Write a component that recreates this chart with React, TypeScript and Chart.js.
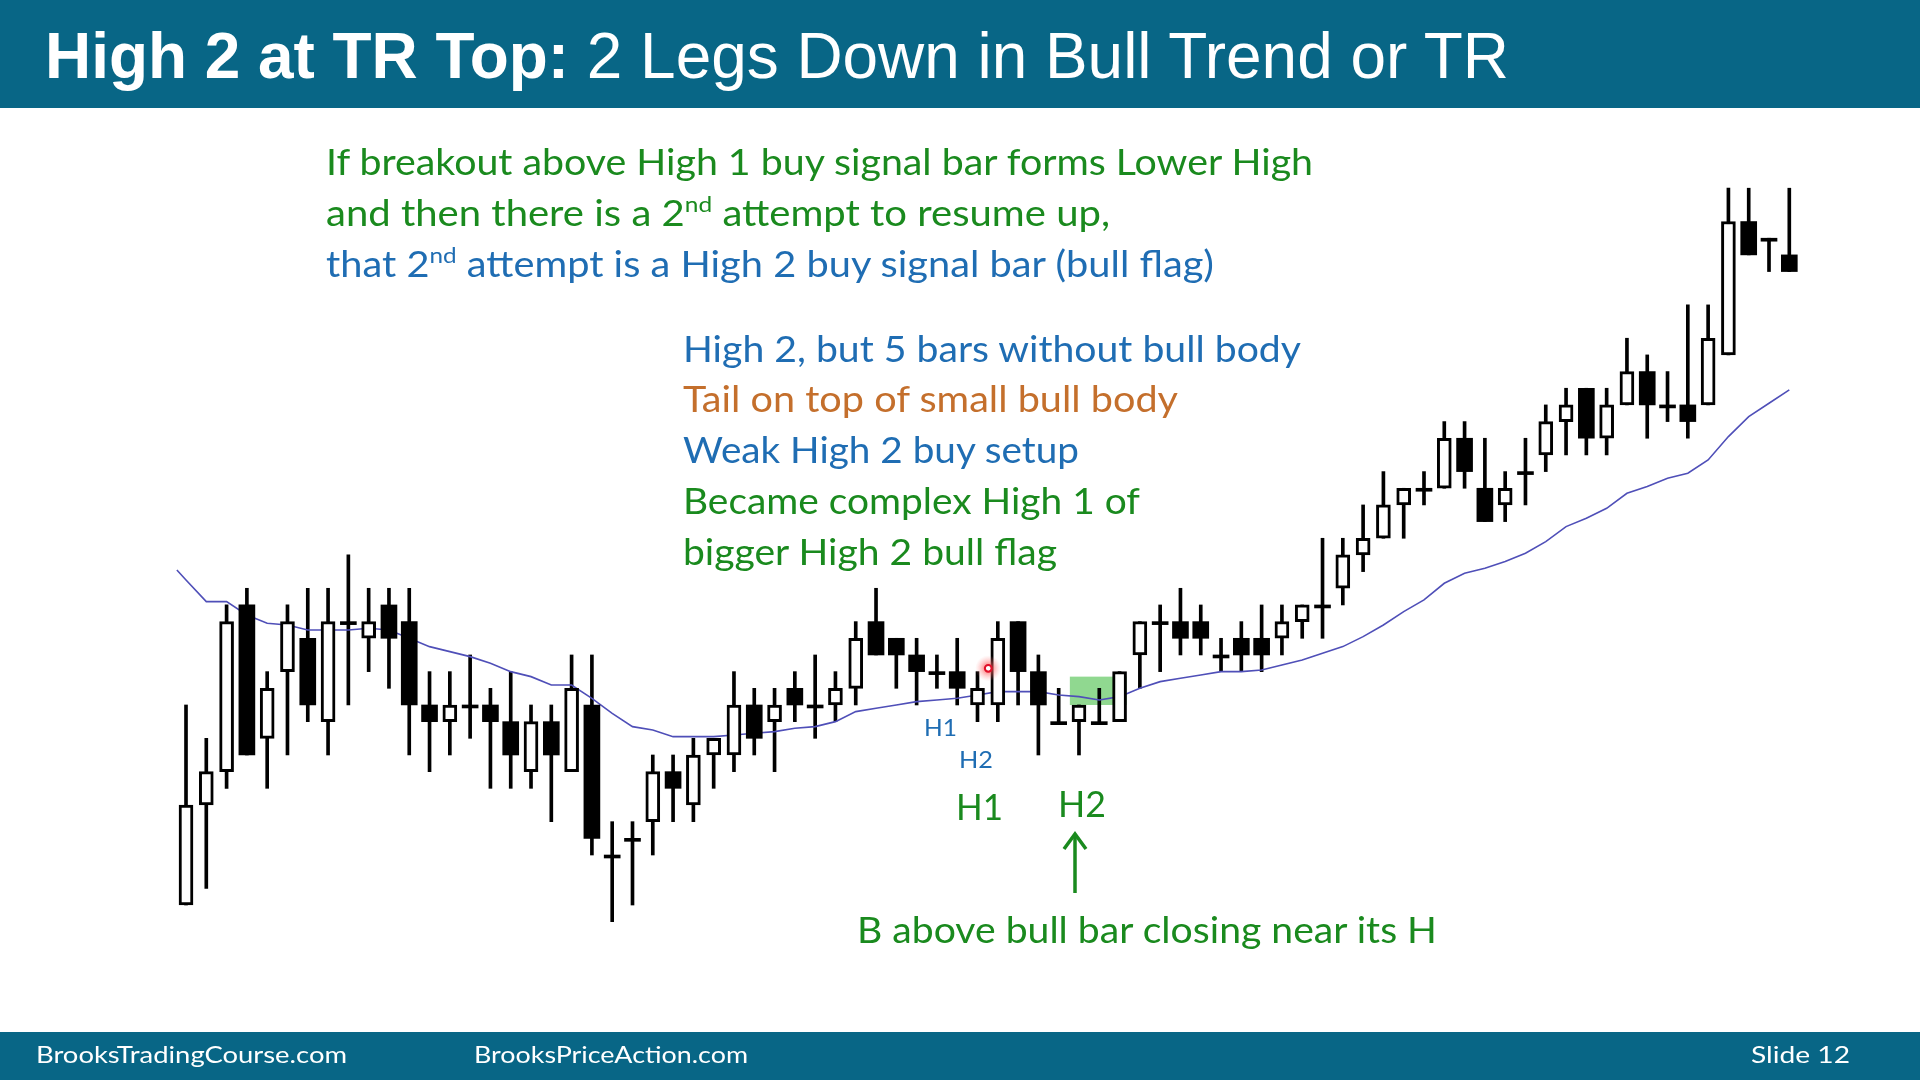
import React, { useEffect, useRef } from 'react';
import { Chart, registerables } from 'chart.js';

Chart.register(...registerables);

// ---- Price data (in chart ticks), one entry per bar ----
const opens = [
  1, 7, 9, 19, 11, 15, 17, 12, 18, 17,
  19, 18, 13, 12, 13, 13, 12, 9, 12, 9,
  13, 4, 5, 6, 9, 7, 10, 10, 13, 12,
  14, 13, 13, 14, 18, 17, 16, 15, 15, 13,
  13, 18, 15, 12, 12, 12, 12, 16, 18, 18,
  18, 16, 17, 17, 17, 18, 19, 20, 22, 23,
  25, 26, 26, 29, 26, 25, 27, 28, 30, 32,
  29, 31, 33, 31, 31, 31, 34, 42, 41, 40,
];
const highs = [
  13, 11, 19, 20, 15, 19, 20, 20, 22, 20,
  20, 20, 15, 15, 16, 14, 15, 13, 13, 16,
  16, 6, 6, 10, 10, 11, 11, 15, 14, 14,
  15, 16, 15, 18, 20, 17, 17, 16, 17, 15,
  18, 18, 16, 14, 13, 14, 15, 18, 19, 20,
  19, 17, 18, 19, 19, 19, 23, 23, 25, 27,
  26, 27, 30, 30, 29, 27, 29, 31, 32, 32,
  32, 35, 34, 33, 37, 37, 44, 44, 41, 44,
];
const lows = [
  1, 2, 8, 10, 8, 10, 12, 10, 13, 15,
  14, 10, 9, 10, 11, 8, 8, 8, 6, 9,
  4, 0, 1, 4, 6, 6, 8, 9, 10, 9,
  12, 11, 12, 13, 16, 14, 13, 14, 13, 12,
  12, 13, 10, 12, 10, 12, 12, 14, 15, 16,
  16, 15, 15, 15, 16, 17, 17, 19, 21, 23,
  23, 25, 26, 26, 24, 24, 25, 27, 28, 28,
  28, 31, 29, 30, 29, 31, 34, 40, 39, 39,
];
const closes = [
  7, 9, 18, 10, 14, 18, 13, 18, 18, 18,
  17, 13, 12, 13, 13, 12, 10, 12, 10, 14,
  5, 4, 5, 9, 8, 10, 11, 13, 11, 13,
  13, 13, 14, 17, 16, 16, 15, 15, 14, 14,
  17, 15, 13, 12, 13, 12, 15, 18, 18, 17,
  17, 16, 16, 16, 18, 19, 19, 22, 23, 25,
  26, 26, 29, 27, 24, 26, 27, 30, 31, 29,
  31, 33, 31, 31, 30, 35, 42, 40, 41, 39,
];
// 20-bar moving average line
const ema = [
  20.5, 19.2, 19.2, 18.4, 17.9, 17.8, 17.5, 17.5, 17.5, 17.6,
  17.5, 17.0, 16.5, 16.2, 15.9, 15.5, 15.0, 14.7, 14.2, 14.2,
  13.4, 12.5, 11.7, 11.5, 11.1, 11.1, 11.1, 11.2, 11.3, 11.4,
  11.6, 11.7, 12.0, 12.6, 12.8, 13.0, 13.2, 13.3, 13.4, 13.6,
  13.8, 13.8, 13.8, 13.6, 13.5, 13.3, 13.5, 14.0, 14.4, 14.6,
  14.8, 15.0, 15.0, 15.1, 15.4, 15.7, 16.1, 16.5, 17.1, 17.8,
  18.6, 19.3, 20.3, 20.9, 21.2, 21.6, 22.1, 22.8, 23.7, 24.2,
  24.8, 25.7, 26.1, 26.6, 26.9, 27.7, 29.1, 30.3, 31.1, 31.9,
];
// the average line starts half a bar before the first bar
const emaLeadIn = { bar: -0.45, value: 21.1 };
// highlighted signal zone (bar index range, price range)
const zoneBars = [43.55, 46.35];
const zonePrices = [13.0, 14.7];
// cursor mark (bar index, price)
const cursorPoint = [39.53, 15.2];

// visible scale ranges
const X_RANGE = [-9.165, 85.44];
const Y_RANGE = [-9.497, 55.29];

const GREEN = '#1a8a1e';
const BLUE = '#1f6db3';
const BROWN = '#c46f2c';
const BAR_BLUE = '#086686';

const slidePlugin = {
  id: 'slideMarks',
  beforeDatasetsDraw(chart: any) {
    const { ctx, scales } = chart;
    const x = scales.x, y = scales.y;
    const l = x.getPixelForValue(zoneBars[0]);
    const r = x.getPixelForValue(zoneBars[1]);
    const t = y.getPixelForValue(zonePrices[1]);
    const b = y.getPixelForValue(zonePrices[0]);
    ctx.save();
    ctx.fillStyle = '#90d890';
    ctx.fillRect(l, t, r - l, b - t);
    ctx.restore();
  },
  afterDatasetsDraw(chart: any) {
    const { ctx, scales } = chart;
    const cx = scales.x.getPixelForValue(cursorPoint[0]);
    const cy = scales.y.getPixelForValue(cursorPoint[1]);
    ctx.save();
    const g = ctx.createRadialGradient(cx, cy, 2, cx, cy, 13);
    g.addColorStop(0, 'rgba(255,70,70,0.75)');
    g.addColorStop(0.5, 'rgba(255,110,110,0.35)');
    g.addColorStop(1, 'rgba(255,150,150,0)');
    ctx.fillStyle = g;
    ctx.beginPath();
    ctx.arc(cx, cy, 13, 0, Math.PI * 2);
    ctx.fill();
    ctx.fillStyle = '#fff';
    ctx.beginPath();
    ctx.arc(cx, cy, 2.5, 0, Math.PI * 2);
    ctx.fill();
    ctx.strokeStyle = '#e0102a';
    ctx.lineWidth = 2;
    ctx.beginPath();
    ctx.arc(cx, cy, 3.4, 0, Math.PI * 2);
    ctx.stroke();
    ctx.restore();
  },
};

function Txt(props: any) {
  const { x, y, w, size, color, children, weight, family } = props;
  return (
    <text
      x={x}
      y={y}
      fontFamily={family || "Lato, 'Open Sans', sans-serif"}
      fontSize={size}
      fill={color}
      fontWeight={weight || 'normal'}
      textLength={w}
      lengthAdjust="spacingAndGlyphs"
    >
      {children}
    </text>
  );
}

export default function App() {
  const ref = useRef<HTMLCanvasElement>(null);

  useEffect(() => {
    document.body.style.margin = '0';
    const idx = opens.map((_, i) => i);
    const wickData = idx.map((i) => ({ x: i, y: [lows[i], highs[i]] }));
    const bullData = idx
      .filter((i) => closes[i] > opens[i])
      .map((i) => ({ x: i, y: [opens[i], closes[i]] }));
    const bearData = idx
      .filter((i) => closes[i] <= opens[i])
      .map((i) => ({ x: i, y: [closes[i], opens[i]] }));
    const emaData = [{ x: emaLeadIn.bar, y: emaLeadIn.value }].concat(
      ema.map((v, i) => ({ x: i, y: v }))
    );

    const chart = new Chart(ref.current as HTMLCanvasElement, {
      type: 'bar',
      data: {
        datasets: [
          {
            type: 'bar',
            label: 'bull',
            data: bullData as any,
            backgroundColor: '#ffffff',
            borderColor: '#000000',
            borderWidth: 3,
            borderSkipped: false,
            barThickness: 14,
            grouped: false,
            order: 0,
          } as any,
          {
            type: 'bar',
            label: 'bear',
            data: bearData as any,
            backgroundColor: '#000000',
            borderWidth: 0,
            barThickness: 16,
            minBarLength: 3,
            grouped: false,
            order: 0,
          } as any,
          {
            type: 'line',
            label: 'ema',
            data: emaData as any,
            borderColor: '#4f4fb8',
            borderWidth: 1.6,
            pointRadius: 0,
            tension: 0,
            fill: false,
            order: 1,
          } as any,
          {
            type: 'bar',
            label: 'wick',
            data: wickData as any,
            backgroundColor: '#000000',
            borderWidth: 0,
            barThickness: 3,
            grouped: false,
            order: 2,
          } as any,
        ],
      },
      options: {
        animation: false,
        responsive: false,
        maintainAspectRatio: false,
        devicePixelRatio: 1,
        layout: { padding: 0 },
        plugins: { legend: { display: false }, tooltip: { enabled: false } },
        scales: {
          x: { type: 'linear', min: X_RANGE[0], max: X_RANGE[1], display: false, offset: false },
          y: { type: 'linear', min: Y_RANGE[0], max: Y_RANGE[1], display: false },
        },
      } as any,
      plugins: [slidePlugin as any],
    });
    return () => chart.destroy();
  }, []);

  return (
    <div
      style={{
        position: 'fixed',
        left: 0,
        top: 0,
        width: 1920,
        height: 1080,
        background: '#ffffff',
        overflow: 'hidden',
      }}
    >
      <canvas
        ref={ref}
        width={1920}
        height={1080}
        style={{ position: 'absolute', left: 0, top: 0, width: 1920, height: 1080 }}
      />
      <svg
        width={1920}
        height={1080}
        style={{ position: 'absolute', left: 0, top: 0, pointerEvents: 'none' }}
      >
        <rect x={0} y={0} width={1920} height={108} fill={BAR_BLUE} />
        <rect x={0} y={1032} width={1920} height={48} fill={BAR_BLUE} />
        <text
          x={45}
          y={78}
          fontFamily="'Liberation Sans', Arial, sans-serif"
          fontSize={65}
          fill="#ffffff"
          textLength={1464}
          lengthAdjust="spacingAndGlyphs"
        >
          <tspan fontWeight="bold">High 2 at TR Top:</tspan>
          <tspan>{' 2 Legs Down in Bull Trend or TR'}</tspan>
        </text>

        <Txt x={326} y={175} w={987} size={36} color={GREEN}>
          If breakout above High 1 buy signal bar forms Lower High
        </Txt>
        <Txt x={326} y={226} w={784} size={36} color={GREEN}>
          {'and then there is a 2'}
          <tspan fontSize={22} dy={-14}>nd</tspan>
          <tspan dy={14}>{' attempt to resume up,'}</tspan>
        </Txt>
        <Txt x={326} y={277} w={888} size={36} color={BLUE}>
          {'that 2'}
          <tspan fontSize={22} dy={-14}>nd</tspan>
          <tspan dy={14}>{' attempt is a High 2 buy signal bar (bull flag)'}</tspan>
        </Txt>

        <Txt x={683} y={362} w={618} size={37} color={BLUE}>High 2, but 5 bars without bull body</Txt>
        <Txt x={683} y={412} w={495} size={37} color={BROWN}>Tail on top of small bull body</Txt>
        <Txt x={683} y={463} w={396} size={37} color={BLUE}>Weak High 2 buy setup</Txt>
        <Txt x={683} y={514} w={457} size={37} color={GREEN}>Became complex High 1 of</Txt>
        <Txt x={683} y={565} w={374} size={37} color={GREEN}>bigger High 2 bull flag</Txt>

        <Txt x={924} y={736} w={33} size={23} color={BLUE}>H1</Txt>
        <Txt x={959} y={768} w={34} size={23} color={BLUE}>H2</Txt>
        <Txt x={956} y={820} w={47} size={36} color={GREEN}>H1</Txt>
        <Txt x={1058} y={817} w={48} size={36} color={GREEN}>H2</Txt>

        <line x1={1075} y1={893} x2={1075} y2={835} stroke={GREEN} strokeWidth={3.5} />
        <polyline
          points="1064,849 1075,834 1086,849"
          fill="none"
          stroke={GREEN}
          strokeWidth={3.5}
        />

        <Txt x={857} y={943} w={580} size={36} color={GREEN}>B above bull bar closing near its H</Txt>

        <Txt x={36} y={1063} w={311} size={24} color="#ffffff">BrooksTradingCourse.com</Txt>
        <Txt x={474} y={1063} w={274} size={24} color="#ffffff">BrooksPriceAction.com</Txt>
        <Txt x={1751} y={1063} w={99} size={24} color="#ffffff">Slide  12</Txt>
      </svg>
    </div>
  );
}
